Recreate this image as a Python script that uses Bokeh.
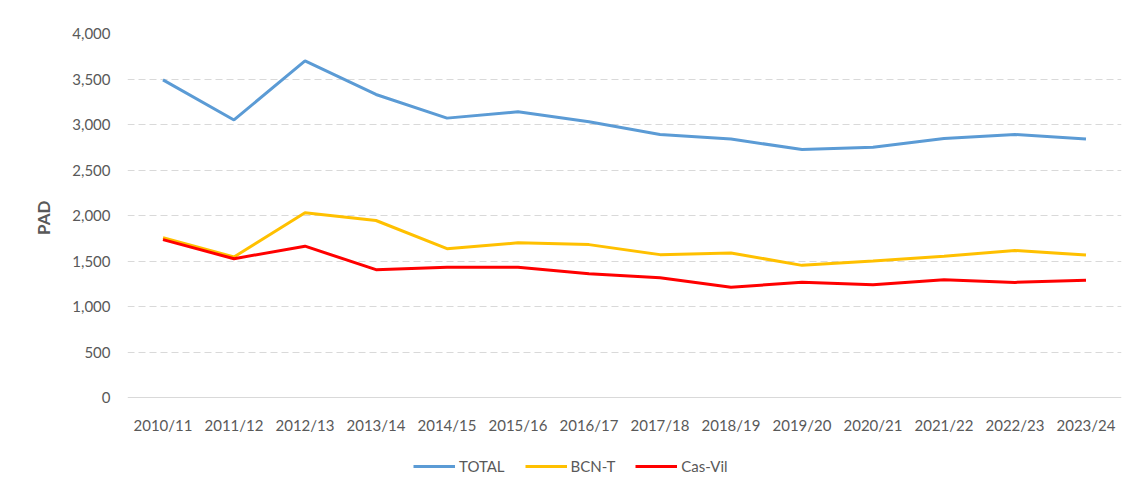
from bokeh.plotting import figure
from bokeh.models import Legend, LegendItem, NumeralTickFormatter, FixedTicker, Range1d, Title
from bokeh.embed import file_html
from bokeh.resources import INLINE

years = ["2010/11", "2011/12", "2012/13", "2013/14", "2014/15", "2015/16", "2016/17",
         "2017/18", "2018/19", "2019/20", "2020/21", "2021/22", "2022/23", "2023/24"]
total = [3490, 3050, 3700, 3330, 3070, 3140, 3030, 2890, 2840, 2725, 2750, 2845, 2890, 2840]
bcn_t = [1755, 1545, 2030, 1945, 1635, 1700, 1680, 1570, 1588, 1452, 1500, 1553, 1615, 1565]
cas_vil = [1735, 1525, 1663, 1405, 1432, 1432, 1360, 1315, 1212, 1267, 1240, 1293, 1265, 1288]
y_ticks = [0, 500, 1000, 1500, 2000, 2500, 3000, 3500, 4000]

FONT = "Lato"
GREY = "#595959"

# plot area: 364 px for 0..4000, extended 85 px below zero to host the legend
PX_PER_UNIT = 364 / 4000
EXTRA_PX = 85
y_start = -EXTRA_PX / PX_PER_UNIT

p = figure(x_range=years, y_range=Range1d(y_start, 4000), frame_width=994,
           frame_height=364 + EXTRA_PX,
           output_backend="svg", toolbar_location=None,
           min_border_left=127, min_border_right=3, min_border_top=33, min_border_bottom=0)
p.x_range.range_padding = 0
p.outline_line_color = None

r1 = p.line(years, total, line_color="#5B9BD5", line_width=3)
r2 = p.line(years, bcn_t, line_color="#FFC000", line_width=3)
r3 = p.line(years, cas_vil, line_color="#FF0000", line_width=3)

p.xgrid.grid_line_color = None
p.ygrid.grid_line_color = "#d9d9d9"
p.ygrid.grid_line_dash = "7 4"
p.ygrid.grid_line_width = 1
p.ygrid.ticker = FixedTicker(ticks=y_ticks[1:])

p.yaxis.ticker = FixedTicker(ticks=y_ticks)
p.yaxis.formatter = NumeralTickFormatter(format="0,0")
p.yaxis.axis_line_color = None
p.yaxis.major_tick_line_color = None
p.yaxis.minor_tick_line_color = None
p.yaxis.major_tick_out = 0
p.yaxis.major_tick_in = 0
p.yaxis.major_label_standoff = 17
p.yaxis.major_label_text_font = FONT
p.yaxis.major_label_text_font_size = "15px"
p.yaxis.major_label_text_color = GREY

# y-axis title placed next to the 0..4000 part of the plot
y_title = Title(text="PAD", align="right", offset=167, standoff=32,
                text_font=FONT, text_font_size="17px", text_font_style="bold",
                text_color=GREY)
p.add_layout(y_title, "left")

p.xaxis.fixed_location = 0
p.xaxis.axis_line_color = "#d9d9d9"
p.xaxis.axis_line_width = 1
p.xaxis.major_tick_line_color = None
p.xaxis.minor_tick_line_color = None
p.xaxis.major_tick_out = 0
p.xaxis.major_tick_in = 0
p.xaxis.major_label_standoff = 18
p.xaxis.major_label_text_font = FONT
p.xaxis.major_label_text_font_size = "15px"
p.xaxis.major_label_text_color = GREY

legend = Legend(items=[LegendItem(label="TOTAL", renderers=[r1]),
                       LegendItem(label="BCN-T", renderers=[r2]),
                       LegendItem(label="Cas-Vil", renderers=[r3])],
                orientation="horizontal", location=(286, 7),
                border_line_color=None, background_fill_alpha=0,
                label_text_font=FONT, label_text_font_size="15px", label_text_color=GREY,
                glyph_width=42, glyph_height=14, label_standoff=4, spacing=20,
                padding=2, margin=0)
p.add_layout(legend, "center")

open("out.html", "w").write(file_html(p, INLINE))
